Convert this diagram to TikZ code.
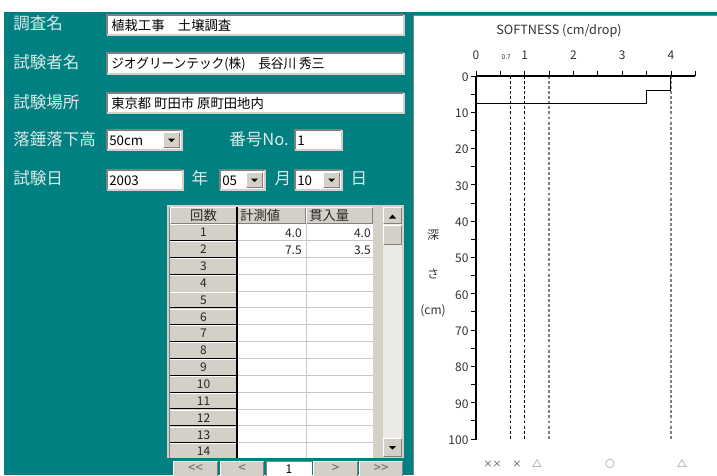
\documentclass[tikz,border=0pt]{standalone}
\usepackage{fontspec}
\setmainfont{Noto Sans CJK JP}
\definecolor{teal0}{RGB}{0,128,128}
\definecolor{face}{RGB}{212,208,200}
\definecolor{shadow}{RGB}{128,128,128}
\definecolor{lbl}{RGB}{222,234,234}
\definecolor{track}{RGB}{236,234,228}
\definecolor{gridc}{RGB}{200,200,200}
\tikzset{
  lab/.style={text=lbl,font=\fontsize{12.4}{14}\selectfont,inner sep=0pt},
  txt/.style={text=black,font=\fontsize{10}{12}\selectfont,inner sep=0pt,anchor=west},
  cell/.style={text=black!85,font=\fontsize{9}{10}\selectfont,inner sep=0pt},
  navtxt/.style={text=black!60,font=\fontsize{10}{11}\selectfont,inner sep=0pt},
  ax/.style={text=black!80,font=\fontsize{9}{10}\selectfont,inner sep=0pt},
  sym/.style={text=black!75,font=\fontsize{7}{8}\selectfont,inner sep=0pt},
}
\newcommand\sunkbox[4]{%
  \fill[white] (#1,#2) rectangle (#3,#4);
  \draw[shadow,line width=1.2pt] (#1,#4) -- (#1,#2) -- (#3,#2);
  \draw[face,line width=1.2pt] (#1,#4) -- (#3,#4) -- (#3,#2);
}
\newcommand\upbox[4]{%
  \fill[face] (#1,#2) rectangle (#3,#4);
  \draw[white,line width=0.75pt] (#1+0.5,#4-1) -- (#1+0.5,#2+0.5) -- (#3-1,#2+0.5);
  \draw[shadow,line width=0.75pt] (#1+1,#4-0.5) -- (#3-0.5,#4-0.5) -- (#3-0.5,#2+1);
}
\newcommand\dropbtn[4]{%
  \upbox{#1}{#2}{#3}{#4}
  \fill[black] ({(#1+#3)/2-3.5},{(#2+#4)/2-1.5}) -- ({(#1+#3)/2+3.5},{(#2+#4)/2-1.5}) -- ({(#1+#3)/2},{(#2+#4)/2+2}) -- cycle;
}
\begin{document}
\begin{tikzpicture}[x=0.75pt,y=-0.75pt]
\useasboundingbox (0,0) rectangle (717,475);
\fill[white] (0,0) rectangle (717,475);
\fill[teal0] (4,12) rectangle (717,475);

% ---------- left form ----------
\node[lab,anchor=west] (l1) at (13,23.5) {調査名};
\node[lab,anchor=west] (l2) at (13,62.5) {試験者名};
\node[lab,anchor=west] (l3) at (13,102) {試験場所};
\node[lab,anchor=west] (l4) at (13,139.5) {落錘落下高};
\node[lab,anchor=west] (l5) at (13,178.5) {試験日};

\sunkbox{107}{15}{404}{35}
\node[txt] (t1) at (111,25.5) {植栽工事　土壌調査};
\sunkbox{107}{53}{404}{74}
\node[txt] (t2) at (111,64) {\addfontfeature{FakeStretch=0.95}ジオグリーンテック(株)　長谷川 秀三};
\sunkbox{107}{93}{404}{113}
\node[txt] (t3) at (111,103.5) {東京都 町田市 原町田地内};

\sunkbox{107}{130}{182}{150}
\node[txt] (t4) at (109,140.5) {50cm};
\dropbtn{163}{132}{180}{148}
\node[lab,anchor=west] (l6) at (229,139.5) {番号No.};
\sunkbox{295}{130}{342}{150}
\node[txt] (t5) at (297,140.5) {1};

\sunkbox{107}{170}{183}{190}
\node[txt] (t6) at (109,180.5) {2003};
\node[lab] (l7) at (200,178.5) {年};
\sunkbox{220}{170}{265}{190}
\node[txt] (t7) at (222,180.5) {05};
\dropbtn{246}{172}{263}{188}
\node[lab] (l8) at (283,178.5) {月};
\sunkbox{295}{170}{342}{190}
\node[txt] (t8) at (297,180.5) {10};
\dropbtn{323}{172}{340}{188}
\node[lab] (l9) at (359,178.5) {日};

% ---------- table ----------
\fill[face] (167,205) rectangle (404,458);
\fill[shadow] (169,207) rectangle (373,458);
\begin{scope}
\clip (170,207) rectangle (373,457);
\upbox{170}{207}{237}{224}
\upbox{237}{207}{306}{224}
\upbox{306}{207}{373}{224}
\node[cell] (h1) at (203.5,215.5) {\fontsize{10}{11}\selectfont 回数};
\node[cell,anchor=west] (h2) at (240,215.5) {\fontsize{10}{11}\selectfont 計測値};
\node[cell,anchor=west] (h3) at (309,215.5) {\fontsize{10}{11}\selectfont 貫入量};
\fill[white] (237,224) rectangle (373,460);
\foreach \i in {1,...,14}{
  \pgfmathsetmacro\tp{224+(\i-1)*16.85}
  \pgfmathsetmacro\bt{224+\i*16.85}
  \fill[face] (170,\tp) rectangle (237,\bt);
  \draw[white,line width=0.75pt] (170,\tp+0.8) -- (236,\tp+0.8);
  \draw[black,line width=0.9pt] (170,\bt-0.3) -- (237,\bt-0.3);
  \draw[gridc,line width=0.75pt] (237,\bt-0.3) -- (373,\bt-0.3);
  \node[cell] (r\i) at (203.5,\tp+8.6) {\i};
}
\draw[gridc,line width=0.75pt] (306,224) -- (306,460);
\draw[black,line width=0.9pt] (237,207) -- (237,460);
\end{scope}
\node[cell,anchor=east] (v11) at (302,233) {4.0};
\node[cell,anchor=east] (v12) at (371,233) {4.0};
\node[cell,anchor=east] (v21) at (302,250) {7.5};
\node[cell,anchor=east] (v22) at (371,250) {3.5};
% scrollbar
\fill[track] (383,207) rectangle (402,457);
\upbox{383}{207}{402}{224}
\fill[black] (389,218.5) -- (396,218.5) -- (392.5,214.5) -- cycle;
\upbox{383}{225}{402}{245}
\dropbtn{383}{438}{402}{457}

% nav buttons
\upbox{173}{461}{218}{478}
\node[navtxt] (n1) at (195.5,469) {<{}<};
\upbox{220}{461}{264}{478}
\node[navtxt] (n2) at (242,469) {<};
\fill[white] (266,461) rectangle (312,478);
\draw[shadow,line width=0.75pt] (266,478) -- (266,461.5) -- (312,461.5);
\node[cell,text=black] (n3) at (289,469.5) {1};
\upbox{313}{461}{358}{478}
\node[navtxt] (n4) at (335.5,469) {>};
\upbox{359}{461}{403}{478}
\node[navtxt] (n5) at (381,469) {>{}>};

% ---------- chart ----------
\fill[white] (413,15) rectangle (717,475);
\draw[shadow,line width=0.9pt] (413.5,475) -- (413.5,15.5) -- (717,15.5);
\node[ax] (title) at (559,31) {\fontsize{9.5}{10}\selectfont SOFTNESS (cm/drop)};
\node[ax] (dy1) at (433,235) {深};
\node[ax] (dy2) at (433,274) {さ};
\node[ax] (dy3) at (433,311) {(cm)};
\begin{scope}[shift={(476,76)},xscale=48.75,yscale=3.63]
  \coordinate (o) at (0,0);
  % reference lines
  \draw[black,line width=0.7pt,dash pattern=on 2.2pt off 1.6pt] (0.7,0) -- (0.7,100);
  \draw[black,line width=0.7pt,dash pattern=on 2.2pt off 1.6pt] (1,0) -- (1,100);
  \draw[black!50,line width=1.3pt,dash pattern=on 2.2pt off 1.6pt] (1.5,0) -- (1.5,100);
  \draw[black!50,line width=1.3pt,dash pattern=on 2.2pt off 1.6pt] (4,0) -- (4,100);
  % data
  \coordinate (d0) at (4,0);
  \coordinate (d1) at (4,4);
  \coordinate (d2) at (3.5,4);
  \coordinate (d3) at (3.5,7.5);
  \coordinate (d4) at (0,7.5);
  \draw[black,line width=0.8pt] (d0) -- (d1) -- (d2) -- (d3) -- (d4);
  % axes
  \foreach \v in {0,0.5,...,4.5} \draw[black,line width=0.75pt] (\v,0) -- (\v,-1.45);
  \foreach \d in {0,5,...,100} \draw[black,line width=0.75pt] (0,\d) -- (-0.11,\d);
  \draw[black,line width=2pt] (0,0) -- (4.5,0);
  \draw[black,line width=2.2pt] (0,0) -- (0,100.2);
  \foreach \v in {0,1,2,3,4} \node[ax] (xl\v) at (\v,-5.8) {\v};
  \node[ax] (xl07) at (0.62,-5.2) {\fontsize{5}{6}\selectfont 0.7};
  \foreach \d in {0,10,...,100} \node[ax,anchor=east] (yl\d) at (-0.15,\d+0.3) {\d};
\end{scope}
% bottom symbols
\node[sym] (s1) at (488,464) {×};
\node[sym] (s2) at (497,464) {×};
\node[sym] (s3) at (517,464) {×};
\node[sym] (s4) at (537,464) {△};
\node[sym] (s5) at (610,464) {○};
\node[sym] (s6) at (682,464) {△};
\end{tikzpicture}
\end{document}
